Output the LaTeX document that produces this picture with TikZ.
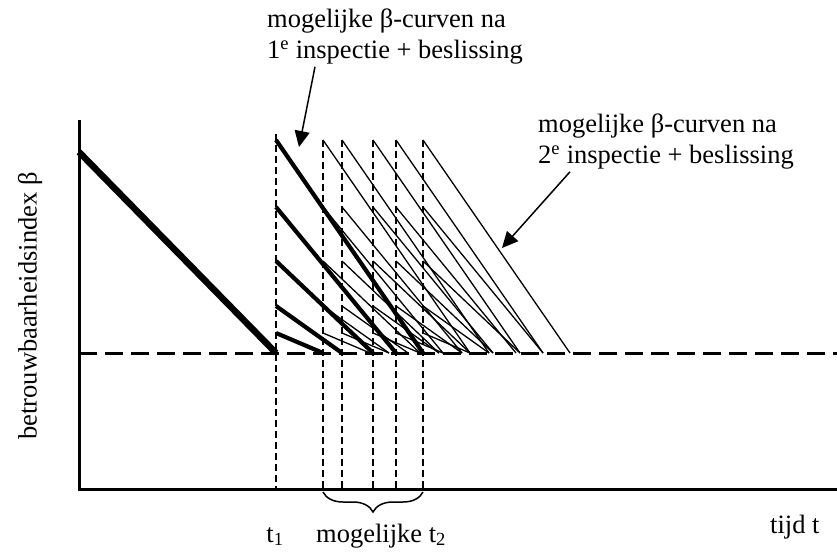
\documentclass[tikz,border=0pt]{standalone}
\usepackage{fontspec}
\setmainfont{Liberation Serif}
\usetikzlibrary{arrows.meta,decorations.pathreplacing}

\begin{document}
\begin{tikzpicture}[
x=1pt,y=-1pt,
>={Triangle[length=16pt,width=15pt]},
axis/.style={
line width=3pt,
line join=miter
},
limitline/.style={
line width=3pt,
dash pattern=on 18pt off 8pt
},
tline/.style={
line width=1.3pt,
dash pattern=on 7pt off 4pt
},
firstbeta/.style={line width=6.5pt},
betaone/.style={line width=4.2pt},
betatwo/.style={line width=1.3pt},
txt/.style={
inner sep=0pt,
align=left,
font=\fontsize{26.5}{31}\selectfont
}
]

\useasboundingbox (0,0) rectangle (837,554);

%%%%%%%%%%%%%%%%%%%%%%%%%%%%%%%%%%%%%%%%%%%%%
% Axes and limit
%%%%%%%%%%%%%%%%%%%%%%%%%%%%%%%%%%%%%%%%%%%%%

\coordinate (ytop) at (79,120);
\coordinate (origin) at (79,489);
\coordinate (xend) at (837,489);

\draw[axis] (ytop)--(origin)--(xend);

\coordinate (limstart) at (79,353);
\coordinate (limend) at (837,353);

\draw[limitline] (limstart)--(limend);

%%%%%%%%%%%%%%%%%%%%%%%%%%%%%%%%%%%%%%%%%%%%%
% Inspection moments
%%%%%%%%%%%%%%%%%%%%%%%%%%%%%%%%%%%%%%%%%%%%%

\coordinate (t1top) at (276,134);
\coordinate (t1bot) at (276,489);

\draw[tline] (t1top)--(t1bot);

\foreach \x [count=\i] in {323,342,373,396,423}{
\coordinate (t2top\i) at (\x,140);
\coordinate (t2bot\i) at (\x,489);
\draw[tline] (t2top\i)--(t2bot\i);
}

%%%%%%%%%%%%%%%%%%%%%%%%%%%%%%%%%%%%%%%%%%%%%
% Beta curves
%%%%%%%%%%%%%%%%%%%%%%%%%%%%%%%%%%%%%%%%%%%%%

\draw[firstbeta] (79,152)--(276,353);

\foreach \x in {323,342,373,396,423}
\foreach \h/\e in {140/423,207/396,261/373,306/342,333/323}
\draw[betatwo] (\x,\h)--({\x+\e-276},353);

\foreach \h/\e in {140/423,207/396,261/373,306/342,333/323}
\draw[betaone] (276,\h)--(\e,353);

%%%%%%%%%%%%%%%%%%%%%%%%%%%%%%%%%%%%%%%%%%%%%
% Labels
%%%%%%%%%%%%%%%%%%%%%%%%%%%%%%%%%%%%%%%%%%%%%

\node[txt,anchor=north west] (curves1) at (267,9)
{mogelijke β-curven na\\1\textsuperscript{e} inspectie + beslissing};

\node[txt,anchor=north west] (curves2) at (538,114)
{mogelijke β-curven na\\2\textsuperscript{e} inspectie + beslissing};

\node[txt,anchor=base] (t1lab) at (275,542) {t\textsubscript{1}};

\node[txt,anchor=base] (t2lab) at (381,542) {mogelijke t\textsubscript{2}};

\node[txt,anchor=base west] (tlab) at (770,533) {tijd t};

\node[txt,rotate=90] (betalab) at (30,306) {betrouwbaarheidsindex β};

%%%%%%%%%%%%%%%%%%%%%%%%%%%%%%%%%%%%%%%%%%%%%
% Connections
%%%%%%%%%%%%%%%%%%%%%%%%%%%%%%%%%%%%%%%%%%%%%

\coordinate (tip1) at (299,147);
\coordinate (tip2) at (502,248);

\draw[->,line width=1.5pt] ([xshift=48pt,yshift=-2pt]curves1.south west)--(tip1);

\draw[->,line width=1.5pt] ([xshift=32pt,yshift=-2pt]curves2.south west)--(tip2);

\draw[line width=1.5pt,decorate,decoration={brace,mirror,amplitude=20pt}]
([yshift=-3pt]t2bot1)--([yshift=-3pt]t2bot5);

\end{tikzpicture}
\end{document}
